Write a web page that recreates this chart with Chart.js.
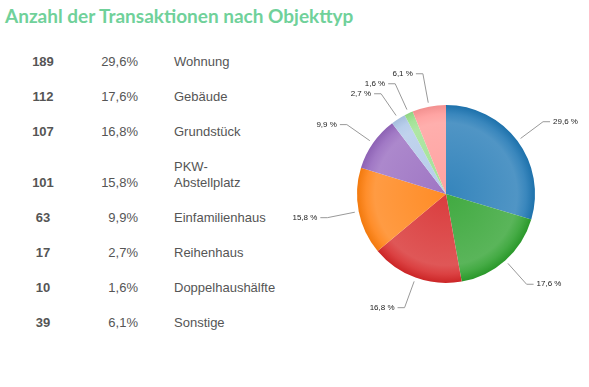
<!DOCTYPE html>
<html>
<head>
<meta charset="utf-8">
<script src="https://cdn.jsdelivr.net/npm/chart.js@4.4.0/dist/chart.umd.min.js"></script>
<style>
    body { margin: 0; background: #fff; }
    #wrap { position: relative; width: 589px; height: 387px; overflow: hidden; }
    #pie { position: absolute; left: 0; top: 0; }
    .title {
        position: absolute; left: 5px; top: 4px;
        font-family: Lato, sans-serif; font-weight: bold; font-size: 19px;
        color: #70d19a; white-space: nowrap;
    }
    table.list {
        position: absolute; left: 0; top: 44.5px;
        border-collapse: collapse;
        font-family: "Liberation Sans", Arial, sans-serif; font-size: 13px;
        color: #555;
    }
    table.list td { padding: 9.5px 0; line-height: 16px; vertical-align: bottom; }
    td.cnt { width: 86px; text-align: center; font-weight: bold; }
    td.pct { width: 52px; text-align: right; }
    td.name { padding-left: 36px !important; text-align: left; }
</style>
</head>
<body>
<div id="wrap">
    <div class="title">Anzahl der Transaktionen nach Objekttyp</div>
    <table class="list" id="list"></table>
    <canvas id="pie" width="589" height="387"></canvas>
</div>
<script>
// Daten
const categories = ['Wohnung', 'Gebäude', 'Grundstück', 'PKW-Abstellplatz', 'Einfamilienhaus', 'Reihenhaus', 'Doppelhaushälfte', 'Sonstige'];
const counts = [189, 112, 107, 101, 63, 17, 10, 39];
const shares = ['29,6', '17,6', '16,8', '15,8', '9,9', '2,7', '1,6', '6,1'];
const colors = ['#1f77b4', '#2ca02c', '#d62728', '#ff7f0e', '#9467bd', '#aec7e8', '#98df8a', '#ff9896'];

// Tabelle links
const list = document.getElementById('list');
categories.forEach(function(name, i) {
    const label = name === 'PKW-Abstellplatz' ? 'PKW-<br>Abstellplatz' : name;
    list.insertAdjacentHTML('beforeend',
        '<tr><td class="cnt">' + counts[i] + '</td><td class="pct">' + shares[i] +
        '%</td><td class="name">' + label + '</td></tr>');
});

// Farbe mischen (t > 0 heller, t < 0 dunkler)
function shade(hex, t) {
    const n = parseInt(hex.slice(1), 16);
    let rgb = [(n >> 16) & 255, (n >> 8) & 255, n & 255];
    rgb = rgb.map(function(c) {
        return Math.round(t >= 0 ? c + (255 - c) * t : c * (1 + t));
    });
    return 'rgb(' + rgb.join(',') + ')';
}

// Labels mit Linien ausserhalb der Torte
const outsideLabels = {
    id: 'outsideLabels',
    afterDatasetsDraw(chart) {
        const ctx = chart.ctx;
        const arcs = chart.getDatasetMeta(0).data;
        const items = arcs.map(function(arc, i) {
            const a = (arc.startAngle + arc.endAngle) / 2;
            const r = arc.outerRadius;
            return {
                i: i,
                right: Math.cos(a) >= 0,
                sx: arc.x + Math.cos(a) * (r + 4),
                sy: arc.y + Math.sin(a) * (r + 4),
                ex: arc.x + Math.cos(a) * (r + 32),
                ey: arc.y + Math.sin(a) * (r + 32)
            };
        });
        // Ueberlappung vermeiden
        [true, false].forEach(function(side) {
            const group = items.filter(function(it) { return it.right === side; })
                .sort(function(p, q) { return p.ey - q.ey; });
            for (let k = 0; k < 30; k++) {
                for (let j = 1; j < group.length; j++) {
                    const gap = group[j].ey - group[j - 1].ey;
                    if (gap < 10) {
                        group[j].ey += (10 - gap) / 2;
                        group[j - 1].ey -= (10 - gap) / 2;
                    }
                }
            }
        });
        ctx.save();
        ctx.strokeStyle = '#999';
        ctx.lineWidth = 1;
        ctx.fillStyle = '#222';
        ctx.font = '8px "Liberation Sans", Arial, sans-serif';
        ctx.textBaseline = 'middle';
        items.forEach(function(it) {
            const dir = it.right ? 1 : -1;
            ctx.beginPath();
            ctx.moveTo(it.sx, it.sy);
            ctx.lineTo(it.ex, it.ey);
            ctx.lineTo(it.ex + dir * 7, it.ey);
            ctx.stroke();
            ctx.textAlign = it.right ? 'left' : 'right';
            ctx.fillText(shares[it.i] + ' %', it.ex + dir * 10, it.ey);
        });
        ctx.restore();
    }
};

const ctxPie = document.getElementById('pie').getContext('2d');
const myPie = new Chart(ctxPie, {
    type: 'pie',
    data: {
        labels: categories,
        datasets: [{
            data: counts,
            backgroundColor: function(context) {
                const area = context.chart.chartArea;
                const base = colors[context.dataIndex];
                if (!area) return base;
                const cx = (area.left + area.right) / 2;
                const cy = (area.top + area.bottom) / 2;
                const r = Math.min(area.width, area.height) / 2;
                const g = context.chart.ctx.createRadialGradient(cx, cy, 0, cx, cy, r);
                g.addColorStop(0, shade(base, 0.1));
                g.addColorStop(0.8, shade(base, 0.22));
                g.addColorStop(0.9, shade(base, 0.12));
                g.addColorStop(1, shade(base, -0.05));
                return g;
            },
            borderWidth: 0,
            hoverOffset: 0
        }]
    },
    options: {
        responsive: false,
        animation: false,
        layout: { padding: { left: 357, top: 105, right: 54, bottom: 104 } },
        plugins: {
            legend: { display: false },
            tooltip: { enabled: false }
        }
    },
    plugins: [outsideLabels]
});
</script>
</body>
</html>
